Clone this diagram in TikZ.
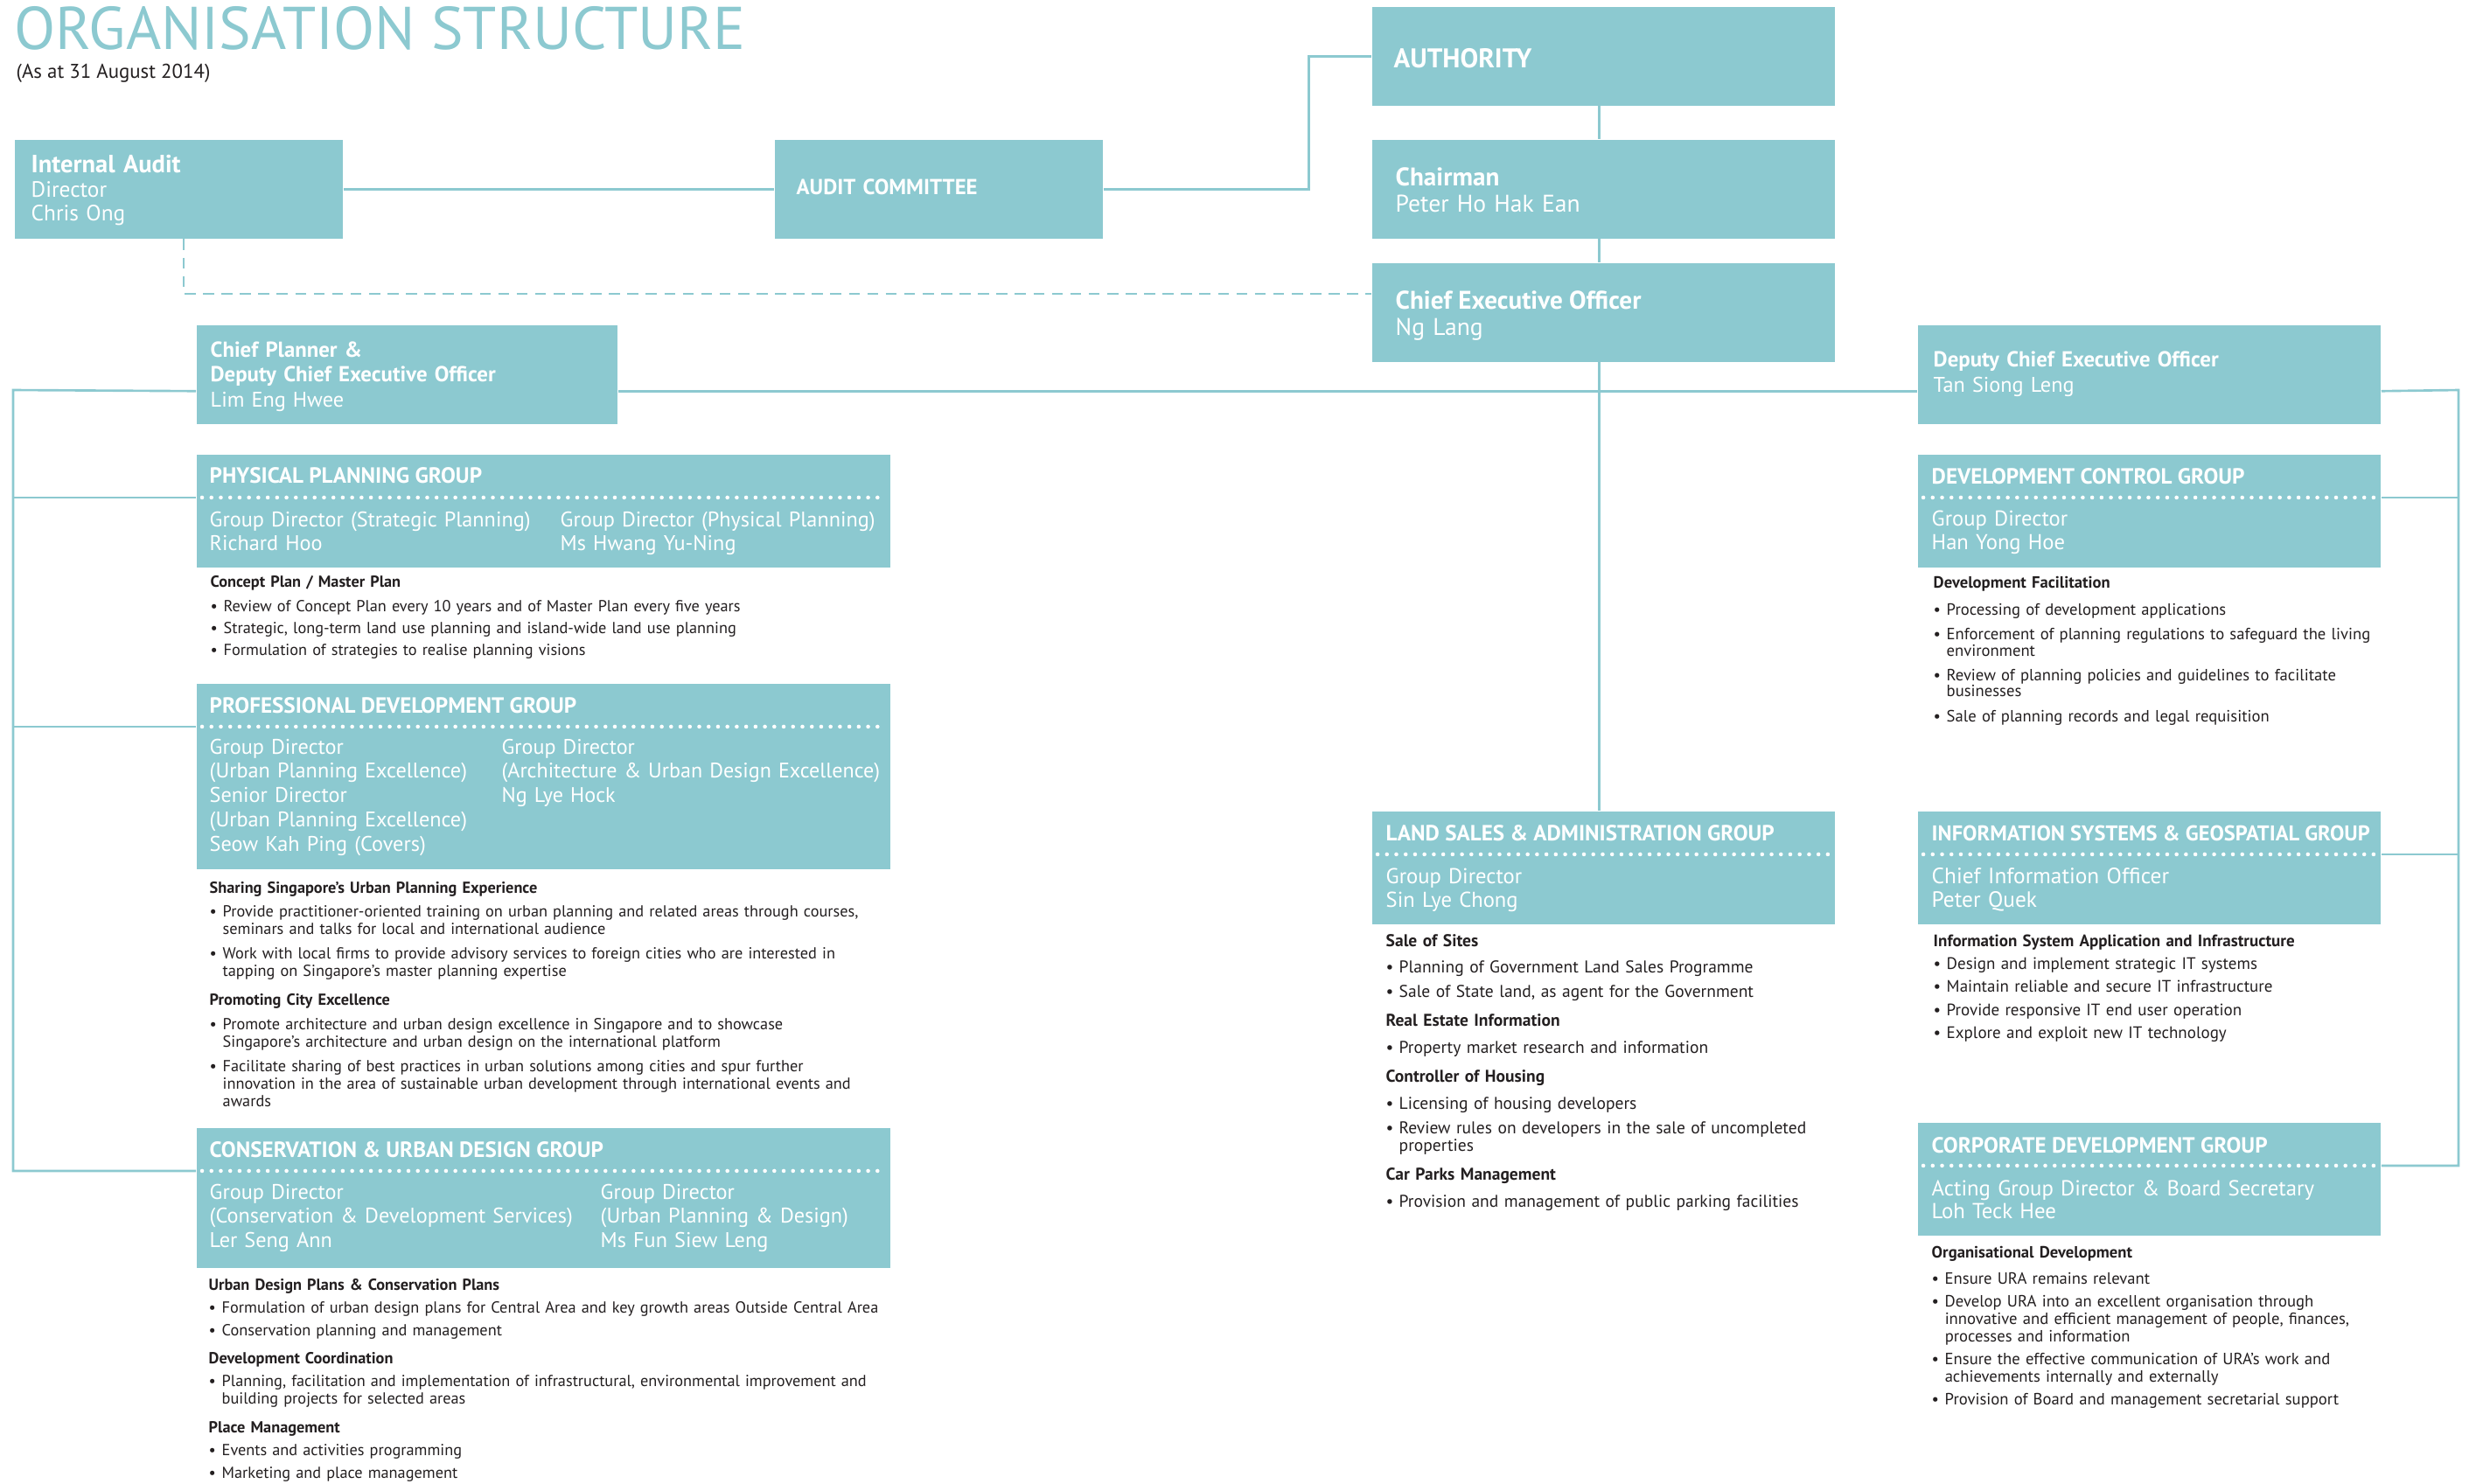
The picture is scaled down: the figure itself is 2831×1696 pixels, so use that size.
\documentclass[tikz,border=0pt]{standalone}
\usepackage{fontspec}
\setmainfont{PT Sans}
\usetikzlibrary{positioning}

\definecolor{urateal}{RGB}{140,201,208}
\definecolor{uraink}{RGB}{35,31,32}

% bullet lists below the group boxes
\newlength\bulletind
\setlength\bulletind{0.15cm}
\newlength\itemgap
\setlength\itemgap{2.2pt}
\newlength\headgap
\setlength\headgap{3.7pt}
\newlength\headafter
\setlength\headafter{0pt}
\newcommand{\bfirst}[1]{\noindent{\bfseries #1}\par\vspace{\headafter}}
\newcommand{\bitem}[1]{\par\vspace{\itemgap}\hangindent=\bulletind\hangafter=1\noindent\makebox[\bulletind][l]{\textbullet}#1\par}
\newcommand{\bhead}[1]{\par\vspace{\headgap}\noindent{\bfseries #1}\par\vspace{\headafter}}

\begin{document}
\begin{tikzpicture}[
  x=0.01cm, y=-0.01cm,
  link/.style={draw=urateal, line width=0.75pt},
  dashlink/.style={link, line width=0.6pt, dash pattern=on 3.6pt off 2.4pt},
  dotrule/.style={draw=white, line width=1.3pt, line cap=round, dash pattern=on 0pt off 3.05pt},
  orgbox/.style={fill=urateal, anchor=north west, inner sep=0pt, minimum width=5.29cm, minimum height=1.13cm},
  groupbox/.style={orgbox, minimum height=1.29cm},
  toptitle/.style={anchor=base west, inner sep=0pt, text=white, font=\fontsize{8.3}{9}\selectfont\bfseries},
  topname/.style={anchor=base west, inner sep=0pt, text=white, align=left, text width=5cm, font=\fontsize{7.85}{8.5}\selectfont},
  boxtitle/.style={anchor=base west, inner sep=0pt, text=white, align=left, text width=5cm, font=\fontsize{7.05}{8.2}\selectfont\bfseries},
  boxname/.style={anchor=base west, inner sep=0pt, text=white, align=left, text width=5cm, font=\fontsize{6.9}{7.9}\selectfont},
  grouptitle/.style={anchor=base west, inner sep=0pt, text=white, font=\fontsize{7.15}{8}\selectfont\bfseries},
  groupname/.style={anchor=base west, inner sep=0pt, text=white, align=left, text width=6cm, font=\fontsize{6.9}{7.9}\selectfont},
  bodytext/.style={anchor=base west, inner sep=0pt, text=uraink, align=left, text width=9cm, font=\fontsize{#1}{5.7}\selectfont},
  bodytext/.default=5.2
]
\useasboundingbox (0,0) rectangle (2831,1696);

% heading
\node[anchor=base west, inner sep=0pt, text=urateal, font=\fontsize{19.6}{21}\selectfont] (title) at (16,56) {ORGANISATION STRUCTURE};
\node[anchor=base west, inner sep=0pt, text=uraink, font=\fontsize{6.5}{7}\selectfont] (date) at (18,89) {(As at 31 August 2014)};

% top of the chart
\node[orgbox, minimum width=3.75cm] (audit) at (16,159) {};
\node[orgbox, minimum width=3.75cm] (committee) at (885,159) {};
\node[orgbox] (authority) at (1568,7) {};
\node[orgbox] (chairman) at (1568,159) {};
\node[orgbox] (ceo) at (1568,300) {};
\node[orgbox, minimum width=4.81cm] (planner) at (224,371) {};
\node[orgbox] (deputy) at (2192,371) {};

\node[boxtitle, font=\fontsize{8.1}{9}\selectfont\bfseries] (auditT) at (35,197) {Internal Audit};
\node[boxname, font=\fontsize{7.2}{7.9}\selectfont] (auditN) at (35,225) {Director\newline Chris Ong};
\node[boxtitle] (committeeT) at (910,222) {AUDIT COMMITTEE};
\node[toptitle, font=\fontsize{8.8}{9}\selectfont\bfseries] (authorityT) at (1593,77) {AUTHORITY};
\node[toptitle] (chairmanT) at (1595,212) {Chairman};
\node[topname] (chairmanN) at (1595,242) {Peter Ho Hak Ean};
\node[toptitle] (ceoT) at (1595,353) {Chief Executive Officer};
\node[topname] (ceoN) at (1595,383) {Ng Lang};
\node[boxtitle] (plannerT) at (240,408) {Chief Planner \&\newline Deputy Chief Executive Officer};
\node[boxname] (plannerN) at (240,465) {Lim Eng Hwee};
\node[boxtitle] (deputyT) at (2210,419) {Deputy Chief Executive Officer};
\node[boxname] (deputyN) at (2210,448) {Tan Siong Leng};

% group boxes
\node[groupbox, minimum width=7.93cm] (ppg) at (224,519) {};
\node[groupbox, minimum width=7.93cm, minimum height=2.12cm] (pdg) at (224,781) {};
\node[groupbox, minimum width=7.93cm, minimum height=1.6cm] (cudg) at (224,1289) {};
\node[groupbox] (dcg) at (2192,519) {};
\node[groupbox] (lsag) at (1568,927) {};
\node[groupbox] (isgg) at (2192,927) {};
\node[groupbox] (cdg) at (2192,1283) {};

\foreach \g in {ppg, pdg, cudg}
  \coordinate (\g tap) at ([yshift=-14.2pt]\g.north west);
\foreach \g in {dcg, isgg, cdg}
  \coordinate (\g tap) at ([yshift=-14.2pt]\g.north east);
\coordinate (lsagtap) at ([yshift=-14.2pt]lsag.north west);

\foreach \g in {ppg, pdg, cudg, lsag}
  \draw[dotrule] ([xshift=2pt]\g tap) -- ([xshift=-2pt]\g tap -| \g.east);
\foreach \g in {dcg, isgg, cdg}
  \draw[dotrule] ([xshift=2pt]\g tap -| \g.west) -- ([xshift=-2pt]\g tap);

\node[grouptitle] (ppgT) at (239,552) {PHYSICAL PLANNING GROUP};
\node[groupname] (ppgA) at (239,602) {Group Director (Strategic Planning)\newline Richard Hoo};
\node[groupname] (ppgB) at (640,602) {Group Director (Physical Planning)\newline Ms Hwang Yu-Ning};

\node[grouptitle] (pdgT) at (239,815) {PROFESSIONAL DEVELOPMENT GROUP};
\node[groupname] (pdgA) at (239,862) {Group Director\newline (Urban Planning Excellence)\newline Senior Director\newline (Urban Planning Excellence)\newline Seow Kah Ping (Covers)};
\node[groupname, font=\fontsize{6.85}{7.9}\selectfont] (pdgB) at (573,862) {Group Director\newline (Architecture \& Urban Design Excellence)\newline Ng Lye Hock};

\node[grouptitle] (cudgT) at (239,1323) {CONSERVATION \& URBAN DESIGN GROUP};
\node[groupname] (cudgA) at (239,1371) {Group Director\newline (Conservation \& Development Services)\newline Ler Seng Ann};
\node[groupname] (cudgB) at (686,1371) {Group Director\newline (Urban Planning \& Design)\newline Ms Fun Siew Leng};

\node[grouptitle] (dcgT) at (2208,553) {DEVELOPMENT CONTROL GROUP};
\node[groupname, font=\fontsize{7}{7.9}\selectfont] (dcgN) at (2208,601) {Group Director\newline Han Yong Hoe};

\node[grouptitle] (lsagT) at (1584,961) {LAND SALES \& ADMINISTRATION GROUP};
\node[groupname, font=\fontsize{7}{7.9}\selectfont] (lsagN) at (1584,1010) {Group Director\newline Sin Lye Chong};

\node[grouptitle, font=\fontsize{6.95}{8}\selectfont\bfseries] (isggT) at (2208,961) {INFORMATION SYSTEMS \& GEOSPATIAL GROUP};
\node[groupname, font=\fontsize{7.2}{7.9}\selectfont] (isggN) at (2208,1010) {Chief Information Officer\newline Peter Quek};

\node[grouptitle] (cdgT) at (2208,1318) {CORPORATE DEVELOPMENT GROUP};
\node[groupname, font=\fontsize{7.05}{7.5}\selectfont] (cdgN) at (2208,1367) {Acting Group Director \& Board Secretary\newline Loh Teck Hee};

% duties under each group
\node[bodytext] (ppgD) at (240,671) {\setlength\headafter{1pt}\setlength\itemgap{1.4pt}\bfirst{Concept Plan / Master Plan}
  \bitem{Review of Concept Plan every 10 years and of Master Plan every five years}
  \bitem{Strategic, long-term land use planning and island-wide land use planning}
  \bitem{Formulation of strategies to realise planning visions}};

\node[bodytext] (pdgD) at (239,1021) {\bfirst{Sharing Singapore’s Urban Planning Experience}
  \bitem{Provide practitioner-oriented training on urban planning and related areas through courses,\newline seminars and talks for local and international audience}
  \bitem{Work with local firms to provide advisory services to foreign cities who are interested in\newline tapping on Singapore’s master planning expertise}
  \bhead{Promoting City Excellence}
  \bitem{Promote architecture and urban design excellence in Singapore and to showcase\newline Singapore’s architecture and urban design on the international platform}
  \bitem{Facilitate sharing of best practices in urban solutions among cities and spur further\newline innovation in the area of sustainable urban development through international events and\newline awards}};

\node[bodytext] (cudgD) at (238,1475) {\setlength\itemgap{1.7pt}\setlength\headgap{3.6pt}\bfirst{Urban Design Plans \& Conservation Plans}
  \bitem{Formulation of urban design plans for Central Area and key growth areas Outside Central Area}
  \bitem{Conservation planning and management}
  \bhead{Development Coordination}
  \bitem{Planning, facilitation and implementation of infrastructural, environmental improvement and\newline building projects for selected areas}
  \bhead{Place Management}
  \bitem{Events and activities programming}
  \bitem{Marketing and place management}};

\node[bodytext, font=\fontsize{5.3}{5.2}\selectfont] (dcgD) at (2210,672) {\setlength\itemgap{2.9pt}\setlength\headafter{0.8pt}\bfirst{Development Facilitation}
  \bitem{Processing of development applications}
  \bitem{Enforcement of planning regulations to safeguard the living\newline environment}
  \bitem{Review of planning policies and guidelines to facilitate\newline businesses}
  \bitem{Sale of planning records and legal requisition}};

\node[bodytext=5.55] (lsagD) at (1584,1082) {\setlength\headafter{0.9pt}\setlength\itemgap{2.2pt}\bfirst{Sale of Sites}
  \bitem{Planning of Government Land Sales Programme}
  \bitem{Sale of State land, as agent for the Government}
  \bhead{Real Estate Information}
  \bitem{Property market research and information}
  \bhead{Controller of Housing}
  \bitem{Licensing of housing developers}
  \bitem{Review rules on developers in the sale of uncompleted\newline properties}
  \bhead{Car Parks Management}
  \bitem{Provision and management of public parking facilities}};

\node[bodytext=5.4] (isggD) at (2210,1082) {\setlength\itemgap{1.8pt}\bfirst{Information System Application and Infrastructure}
  \bitem{Design and implement strategic IT systems}
  \bitem{Maintain reliable and secure IT infrastructure}
  \bitem{Provide responsive IT end user operation}
  \bitem{Explore and exploit new IT technology}};

\node[bodytext=5.3] (cdgD) at (2208,1438) {\setlength\headafter{1.3pt}\setlength\itemgap{1.7pt}\bfirst{Organisational Development}
  \bitem{Ensure URA remains relevant}
  \bitem{Develop URA into an excellent organisation through\newline innovative and efficient management of people, finances,\newline processes and information}
  \bitem{Ensure the effective communication of URA’s work and\newline achievements internally and externally}
  \bitem{Provision of Board and management secretarial support}};

% reporting lines
\draw[link] (audit) -- (committee);
\draw[link] (committee.east) -- ++(235,0) |- (authority.west);
\draw[dashlink] ([xshift=1.7pt]audit.south) |- ([yshift=6pt]ceo.west);
\draw[link] ([xshift=-1.3pt]authority.south) -- ([xshift=-1.3pt]chairman.north);
\draw[link] ([xshift=-1.3pt]chairman.south) -- ([xshift=-1.3pt]ceo.north);
\draw[link] ([xshift=-1.3pt]ceo.south) -- ([xshift=-1.3pt]lsag.north);

\coordinate (lbus) at (15,446);
\coordinate (rbus) at (2811,446);
\draw[link] ([yshift=-5.4pt]planner.east) -- ([yshift=-5.4pt]deputy.west);
\draw[link] ([yshift=-5.4pt]planner.west) -- (lbus) |- (cudgtap);
\draw[link] (lbus |- ppgtap) -- (ppgtap);
\draw[link] (lbus |- pdgtap) -- (pdgtap);
\draw[link] ([yshift=-5.4pt]deputy.east) -- (rbus) |- (cdgtap);
\draw[link] (rbus |- dcgtap) -- (dcgtap);
\draw[link] (rbus |- isggtap) -- (isggtap);

\end{tikzpicture}
\end{document}
